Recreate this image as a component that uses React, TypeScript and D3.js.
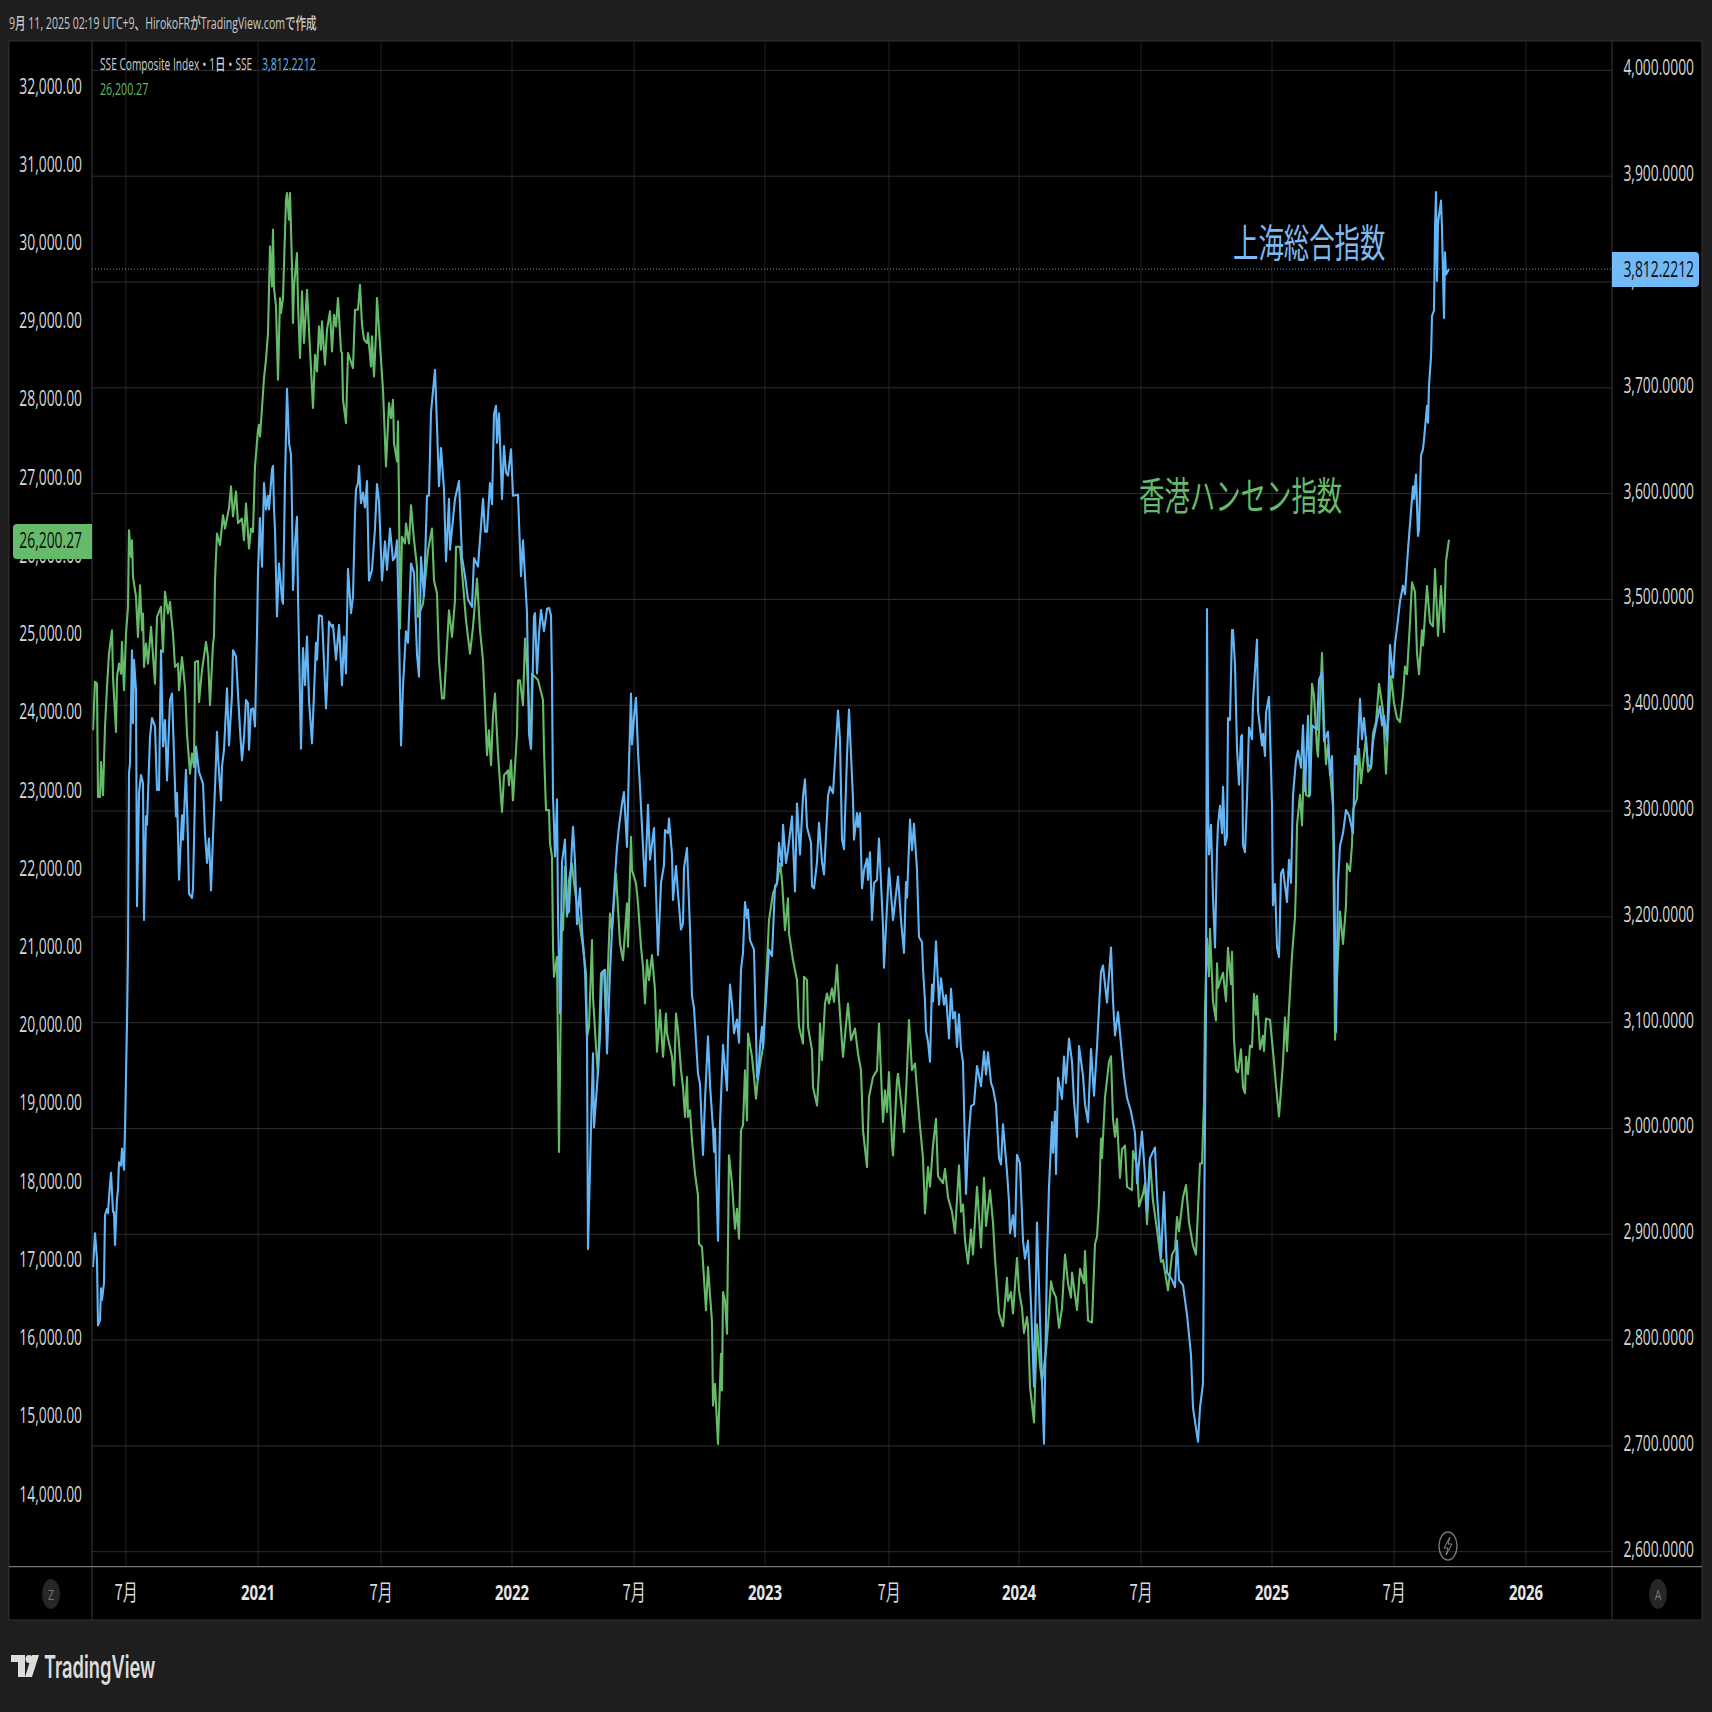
import React from "react";
import * as d3 from "d3";

// x unit: trading session counted from the left edge of the chart
const timeTickSessions = [34, 166, 289, 420, 542, 673, 797, 927, 1049, 1180, 1302, 1434];
const timeTickLabels = ["7月", "2021", "7月", "2022", "7月", "2023", "7月", "2024", "7月", "2025", "7月", "2026"];
const leftTicks = [32000, 31000, 30000, 29000, 28000, 27000, 26000, 25000, 24000, 23000, 22000, 21000, 20000, 19000, 18000, 17000, 16000, 15000, 14000];
const rightTicks = [4000, 3900, 3800, 3700, 3600, 3500, 3400, 3300, 3200, 3100, 3000, 2900, 2800, 2700, 2600];
const lastShanghai = 3812.2212;
const lastHangSeng = 26200.27;

const hangSeng: [number, number][] = [
[1,23763],[3,24382],[5,24360],[6,22911],[8,22911],[9,23358],[11,22932],[13,23806],[15,24318],[17,24744],[20,25042],[21,24446],[24,23742],[25,24446],[27,24616],[29,24488],[30,24893],[32,24275],[34,25000],[36,25341],[37,26321],[39,25980],[40,26193],[41,25724],[44,25469],[46,24957],[48,25618],[50,25042],[51,25256],[52,24574],[54,24872],[56,24616],[59,25085],[63,24360],[65,25213],[69,25341],[71,24765],[73,25533],[76,25256],[78,25405],[80,25128],[81,25000],[83,24574],[86,24616],[87,24275],[90,24701],[93,24318],[95,23721],[98,23209],[100,23465],[102,23295],[103,24637],[106,24650],[107,24126],[110,24531],[114,24893],[116,24701],[118,24083],[121,24872],[122,24957],[123,25682],[125,26279],[128,26129],[131,26513],[133,26343],[137,26604],[139,26881],[141,26497],[144,26817],[146,26412],[150,26470],[152,26193],[154,26662],[157,26087],[159,26343],[161,26300],[163,27137],[166,27606],[167,27670],[168,27520],[170,27883],[172,28267],[174,28501],[176,28842],[177,29396],[178,29950],[180,29439],[181,30164],[182,29418],[184,29183],[186,28245],[188,29290],[189,29098],[191,29290],[194,30547],[195,30632],[197,30291],[198,30632],[200,29695],[201,28970],[202,29439],[205,29865],[206,29226],[208,28522],[210,29375],[212,28714],[215,29396],[217,28885],[221,27883],[223,28565],[225,28352],[227,28927],[229,28629],[230,28991],[233,28437],[235,28885],[238,29119],[240,28607],[242,29076],[244,28927],[246,29290],[249,28607],[250,28586],[251,27989],[254,27691],[256,28586],[261,28394],[263,29140],[266,29140],[268,29460],[270,28949],[272,28757],[275,28714],[276,28842],[279,28416],[280,28799],[282,28288],[284,28842],[285,29290],[287,28885],[291,28117],[294,27137],[297,27947],[299,27755],[301,27989],[302,27435],[305,27201],[306,27712],[307,26711],[308,25064],[310,26236],[313,26151],[314,26407],[317,26151],[319,26641],[322,26193],[325,25852],[326,25213],[331,25383],[336,26066],[340,26343],[342,25682],[345,25511],[347,24659],[350,24169],[352,24169],[354,24616],[357,25298],[360,24957],[363,25426],[364,26108],[368,26108],[371,25639],[374,25170],[378,24744],[381,25085],[385,25703],[388,25042],[391,24659],[393,24062],[395,23444],[397,23764],[399,23316],[401,23955],[403,24232],[404,23955],[406,23465],[410,22719],[412,23188],[416,23252],[417,23060],[419,23380],[421,22868],[425,23721],[426,24403],[428,24403],[431,24083],[433,24936],[435,24574],[439,23529],[440,24488],[446,24406],[451,24150],[452,23511],[454,22743],[457,22743],[458,22317],[460,22147],[461,20996],[462,20612],[465,20868],[467,18372],[470,21422],[471,21209],[473,22019],[475,21379],[477,21848],[480,22061],[482,21806],[488,21251],[491,20996],[494,20655],[495,19845],[497,19973],[500,21081],[501,20356],[504,19717],[506,19354],[509,20655],[512,20697],[514,20058],[518,21422],[520,21209],[524,21933],[528,21038],[531,20825],[535,21550],[536,20996],[539,22402],[540,21976],[544,21806],[546,21550],[549,20996],[551,20740],[553,20271],[555,20825],[557,20569],[560,20889],[563,20441],[565,19653],[568,20186],[571,19589],[574,20143],[575,19887],[580,19589],[582,19224],[584,20143],[586,19930],[589,19418],[591,19203],[593,18819],[595,19331],[596,18819],[598,18904],[600,18521],[603,18094],[606,17817],[607,17199],[610,17157],[614,16347],[616,16901],[620,16197],[621,15132],[623,15409],[626,14641],[629,15792],[630,15323],[631,16581],[633,16474],[635,16048],[637,18329],[640,17967],[643,17391],[645,17647],[647,17263],[649,18649],[651,18713],[653,19416],[655,18776],[656,19887],[660,19589],[662,19333],[664,19054],[666,19331],[671,19717],[675,20782],[677,21337],[681,21678],[685,21806],[688,22061],[690,21848],[693,21209],[696,21614],[697,21166],[701,20825],[705,20569],[707,19973],[711,19759],[712,20612],[715,20569],[716,19973],[720,19674],[721,19203],[725,18968],[727,19416],[728,20015],[730,19546],[733,20271],[735,20399],[737,20271],[740,20463],[742,20292],[745,20761],[747,20313],[751,19589],[756,20271],[759,19802],[763,19951],[766,19631],[769,19418],[771,18649],[775,18180],[777,19075],[781,19331],[785,19416],[787,20015],[791,18755],[793,19160],[795,18883],[797,19395],[800,18478],[801,18329],[805,19288],[806,19373],[810,18904],[812,18627],[815,19395],[817,20058],[820,19418],[823,19503],[825,19161],[828,18704],[831,18293],[833,17586],[836,18179],[838,17928],[841,18453],[844,18796],[846,18065],[851,17974],[853,18156],[856,17791],[860,17609],[863,17335],[867,18202],[869,17609],[871,17700],[873,17243],[876,16946],[879,17380],[881,17061],[885,17928],[889,17152],[892,18042],[894,17426],[898,17883],[901,17472],[903,17015],[907,16307],[911,16147],[915,16764],[916,16467],[919,16581],[921,16307],[925,17015],[927,16604],[930,16376],[932,16056],[935,16262],[936,16147],[938,15371],[942,14915],[945,16170],[948,15645],[950,15440],[954,15828],[956,16147],[959,16718],[961,16604],[964,16513],[967,16125],[970,16376],[973,17061],[976,16695],[979,16513],[980,16832],[985,16353],[988,16878],[992,16695],[993,17106],[996,16216],[1000,16193],[1003,17198],[1005,17289],[1007,17723],[1009,18545],[1010,18293],[1013,19070],[1017,19526],[1019,19595],[1021,18796],[1023,18567],[1025,18796],[1028,18042],[1030,18408],[1033,18453],[1035,17928],[1040,17883],[1041,18385],[1045,18202],[1047,17677],[1051,17837],[1053,17974],[1055,17449],[1058,18271],[1061,17745],[1065,17380],[1069,16969],[1071,16992],[1076,16604],[1080,17061],[1083,17129],[1085,17540],[1087,17357],[1091,17791],[1094,17951],[1097,17472],[1101,17175],[1104,17061],[1108,18225],[1110,18225],[1112,19024],[1113,20211],[1115,21104],[1117,20615],[1118,21227],[1121,20297],[1124,20053],[1125,20786],[1126,20468],[1129,20590],[1131,20664],[1134,20297],[1136,20982],[1139,20517],[1140,20933],[1141,20346],[1142,19808],[1144,19416],[1146,19392],[1149,19686],[1151,19196],[1153,19123],[1154,19588],[1156,19367],[1158,19734],[1160,19710],[1162,20395],[1164,20126],[1165,20370],[1168,19686],[1171,19857],[1172,19661],[1174,20077],[1178,20062],[1181,19661],[1184,19221],[1187,18826],[1191,19514],[1193,20092],[1195,19661],[1197,20199],[1200,20884],[1203,21374],[1204,21814],[1205,22548],[1208,22939],[1210,22548],[1212,23380],[1214,22939],[1217,22915],[1220,24358],[1222,24212],[1225,23526],[1226,23429],[1230,24750],[1232,23869],[1234,23331],[1236,23575],[1239,23086],[1241,22793],[1243,19808],[1245,20589],[1248,21447],[1251,21031],[1254,21520],[1255,22059],[1258,21961],[1260,22303],[1261,22744],[1265,22891],[1267,23527],[1269,23086],[1271,23331],[1274,23673],[1276,23233],[1279,23282],[1281,23722],[1284,23869],[1287,24358],[1291,24016],[1292,23771],[1294,23208],[1296,23820],[1299,24456],[1302,24114],[1305,23918],[1308,23869],[1311,24212],[1313,24579],[1315,24481],[1318,25141],[1320,25655],[1323,25533],[1325,24750],[1327,24481],[1330,25043],[1331,24848],[1335,25606],[1338,25141],[1341,25092],[1343,25826],[1346,24970],[1349,25606],[1352,25019],[1354,25924],[1357,26200]
];

const shanghai: [number, number][] = [
[1,2869],[3,2901],[5,2876],[6,2814],[8,2819],[9,2849],[10,2838],[12,2854],[13,2918],[15,2924],[16,2920],[17,2935],[19,2958],[21,2921],[22,2921],[23,2890],[25,2934],[26,2942],[27,2968],[29,2965],[30,2981],[32,2961],[33,3000],[35,3099],[36,3169],[37,3336],[38,3345],[40,3452],[41,3383],[42,3443],[44,3414],[45,3210],[47,3317],[49,3334],[51,3326],[52,3197],[54,3295],[55,3287],[58,3370],[60,3388],[63,3380],[65,3320],[67,3320],[69,3452],[71,3361],[73,3386],[75,3329],[78,3405],[80,3411],[84,3295],[85,3317],[87,3235],[90,3296],[91,3273],[94,3339],[96,3271],[97,3222],[100,3218],[101,3227],[104,3361],[107,3337],[111,3326],[113,3279],[115,3251],[117,3274],[119,3225],[121,3276],[123,3322],[125,3375],[126,3351],[129,3310],[130,3342],[132,3358],[135,3416],[137,3362],[140,3410],[141,3452],[144,3446],[146,3411],[148,3377],[150,3348],[152,3370],[154,3405],[156,3402],[157,3358],[159,3396],[161,3397],[163,3380],[165,3468],[166,3525],[168,3577],[170,3531],[172,3610],[174,3585],[176,3598],[177,3585],[180,3623],[181,3626],[182,3585],[183,3566],[185,3484],[187,3534],[190,3500],[191,3496],[193,3613],[195,3699],[197,3648],[199,3637],[200,3587],[201,3509],[203,3553],[205,3578],[206,3503],[209,3359],[211,3454],[213,3419],[215,3465],[217,3405],[220,3364],[224,3459],[225,3443],[227,3485],[230,3484],[234,3397],[235,3418],[237,3479],[240,3474],[241,3476],[244,3443],[247,3476],[250,3419],[252,3465],[254,3430],[256,3529],[259,3487],[261,3503],[263,3581],[264,3604],[266,3610],[267,3626],[269,3591],[271,3601],[273,3587],[275,3612],[277,3518],[280,3528],[283,3567],[285,3609],[287,3593],[290,3518],[293,3555],[295,3528],[298,3567],[301,3537],[303,3540],[305,3556],[307,3471],[309,3362],[311,3418],[314,3470],[316,3459],[319,3534],[322,3525],[325,3448],[327,3427],[329,3540],[332,3503],[335,3598],[337,3598],[339,3677],[343,3717],[345,3664],[347,3607],[349,3643],[352,3604],[354,3536],[357,3595],[358,3547],[363,3595],[367,3612],[370,3540],[373,3522],[376,3500],[380,3493],[382,3539],[386,3531],[391,3595],[393,3564],[395,3564],[398,3610],[400,3590],[402,3675],[404,3683],[405,3648],[407,3676],[410,3595],[412,3645],[414,3620],[416,3617],[419,3642],[421,3598],[426,3599],[429,3522],[431,3556],[435,3487],[437,3373],[439,3359],[442,3484],[443,3487],[445,3430],[447,3468],[449,3490],[452,3470],[455,3491],[457,3492],[459,3485],[460,3424],[461,3314],[463,3257],[465,3311],[466,3203],[468,3109],[470,3252],[473,3273],[475,3203],[477,3205],[480,3268],[481,3285],[483,3252],[485,3193],[488,3227],[490,3188],[493,3150],[495,3084],[496,2886],[499,3001],[501,3071],[502,3001],[505,3040],[508,3087],[510,3147],[513,3150],[515,3071],[518,3147],[520,3188],[523,3238],[525,3266],[527,3285],[530,3307],[532,3318],[535,3266],[537,3345],[539,3411],[540,3363],[542,3389],[544,3407],[546,3356],[548,3323],[550,3285],[553,3229],[556,3306],[558,3254],[562,3284],[566,3164],[569,3232],[572,3249],[573,3282],[576,3279],[577,3293],[580,3259],[581,3216],[584,3248],[586,3222],[589,3188],[591,3194],[592,3246],[595,3265],[598,3188],[600,3125],[602,3114],[606,3052],[608,3042],[611,2975],[613,3027],[616,3087],[618,3041],[621,3000],[622,2978],[623,3000],[626,2894],[628,3005],[631,3079],[635,3036],[636,3087],[638,3136],[640,3118],[642,3090],[645,3103],[647,3081],[649,3150],[651,3166],[653,3214],[655,3199],[656,3207],[658,3178],[662,3169],[665,3049],[666,3046],[668,3078],[670,3096],[671,3076],[674,3122],[677,3169],[680,3163],[683,3229],[685,3232],[687,3270],[690,3248],[691,3287],[694,3251],[696,3263],[700,3295],[703,3224],[705,3307],[708,3259],[711,3314],[713,3330],[715,3285],[719,3270],[720,3229],[722,3227],[725,3252],[727,3289],[730,3252],[732,3240],[736,3314],[738,3323],[741,3317],[746,3395],[748,3367],[750,3273],[752,3264],[755,3352],[757,3396],[761,3311],[762,3273],[765,3298],[766,3285],[768,3298],[770,3227],[772,3244],[775,3255],[776,3235],[778,3261],[780,3197],[782,3232],[785,3235],[787,3274],[791,3191],[792,3152],[794,3191],[797,3246],[801,3197],[804,3222],[806,3238],[809,3197],[812,3166],[814,3233],[815,3218],[818,3292],[820,3263],[822,3288],[825,3244],[827,3181],[830,3176],[831,3151],[833,3120],[834,3092],[836,3082],[838,3063],[840,3136],[841,3120],[844,3177],[847,3117],[849,3142],[852,3117],[854,3126],[857,3085],[859,3132],[861,3104],[863,3110],[865,3077],[867,3108],[869,3075],[871,3063],[874,2938],[876,2985],[879,3021],[882,3023],[885,3059],[889,3040],[892,3073],[894,3051],[896,3072],[899,3043],[901,3038],[904,3023],[907,2972],[909,2966],[911,3004],[915,2959],[917,2931],[918,2901],[921,2918],[923,2898],[925,2975],[928,2967],[931,2894],[933,2877],[936,2894],[939,2834],[942,2756],[945,2911],[948,2820],[952,2702],[955,2877],[957,2945],[960,3006],[961,2977],[963,3016],[964,2957],[966,3048],[970,3028],[972,3068],[974,3043],[977,3085],[980,3063],[982,3026],[985,2992],[987,3078],[991,3050],[993,3023],[996,3006],[999,3075],[1002,3031],[1005,3077],[1007,3114],[1009,3148],[1011,3154],[1015,3119],[1019,3171],[1021,3121],[1023,3088],[1026,3110],[1029,3080],[1032,3050],[1035,3029],[1039,3016],[1043,2996],[1045,2948],[1050,2997],[1053,2955],[1055,2921],[1058,2972],[1063,2982],[1065,2938],[1069,2878],[1072,2940],[1075,2864],[1080,2857],[1083,2850],[1085,2894],[1087,2857],[1091,2852],[1095,2824],[1099,2786],[1101,2736],[1106,2704],[1108,2736],[1111,2759],[1112,2894],[1114,3114],[1115,3491],[1116,3305],[1117,3259],[1119,3287],[1121,3218],[1123,3171],[1125,3263],[1126,3287],[1128,3305],[1130,3279],[1131,3323],[1133,3268],[1135,3276],[1136,3388],[1138,3386],[1140,3471],[1141,3471],[1143,3438],[1145,3359],[1147,3325],[1149,3370],[1150,3372],[1151,3268],[1153,3261],[1155,3312],[1157,3379],[1160,3368],[1161,3404],[1165,3462],[1166,3395],[1170,3362],[1171,3373],[1173,3352],[1174,3393],[1177,3408],[1180,3305],[1181,3211],[1183,3231],[1185,3171],[1187,3162],[1189,3241],[1191,3245],[1195,3214],[1197,3254],[1199,3232],[1201,3315],[1204,3348],[1206,3357],[1209,3341],[1211,3381],[1213,3319],[1216,3390],[1218,3315],[1220,3381],[1225,3377],[1227,3424],[1230,3431],[1232,3366],[1236,3375],[1238,3334],[1240,3352],[1242,3268],[1244,3091],[1246,3232],[1248,3267],[1251,3279],[1254,3301],[1257,3296],[1261,3279],[1263,3352],[1265,3344],[1268,3406],[1270,3368],[1272,3388],[1276,3344],[1279,3341],[1281,3366],[1285,3386],[1288,3399],[1290,3381],[1292,3390],[1295,3366],[1298,3457],[1301,3426],[1303,3458],[1305,3473],[1308,3498],[1311,3513],[1313,3505],[1316,3547],[1319,3583],[1321,3607],[1322,3595],[1324,3618],[1326,3560],[1327,3566],[1329,3636],[1331,3642],[1332,3651],[1335,3683],[1336,3667],[1337,3702],[1339,3729],[1340,3768],[1342,3773],[1343,3850],[1344,3885],[1345,3801],[1346,3856],[1349,3877],[1350,3850],[1352,3766],[1353,3828],[1354,3807],[1357,3812.2212]
];

const BLUE = "#64b5f6";
const GREEN = "#66bb6a";
const TEXT = "#d8d8d8";
const FONT = "'Open Sans', sans-serif";
const CJK = "'Noto Sans CJK JP', sans-serif";
const MIXED = "'Open Sans','Noto Sans CJK JP',sans-serif";

const W = 1712;
const L = 92, R = 1612, T = 41, B = 1566.7, FL = 9, FR = 1702, FB = 1620;

const x = d3.scaleLinear().domain([0, 1360]).range([L, L + 1360]);
const yR = d3.scaleLinear().domain([2600, 4000]).range([1551.7, 70.4]);
const yL = d3.scaleLinear().domain([14000, 32000]).range([1494, 86]);

const fmtL = d3.format(",.2f");
const fmtR = d3.format(",.4f");

const lineL = d3.line<[number, number]>().x((d) => x(d[0])).y((d) => yL(d[1]));
const lineR = d3.line<[number, number]>().x((d) => x(d[0])).y((d) => yR(d[1]));

// horizontally condensed text: the picture is squeezed sideways
function T2(p: { x: number; y: number; s?: number; size: number; fill: string; anchor?: string; weight?: number; font?: string; children: React.ReactNode }) {
  return (
    <text
      transform={`translate(${p.x},${p.y}) scale(${p.s ?? 0.66},1)`}
      fontSize={p.size}
      fill={p.fill}
      textAnchor={p.anchor ?? "start"}
      fontWeight={p.weight ?? 500}
      fontFamily={p.font ?? FONT}
    >
      {p.children}
    </text>
  );
}

export default function App() {
  return (
    <svg width={W} height={W} viewBox={`0 0 ${W} ${W}`} style={{ position: "fixed", left: 0, top: 0, display: "block" }}>
      <rect width={W} height={W} fill="#1e1e1e" />
      <rect x={FL} y={T} width={FR - FL} height={FB - T} fill="#000" stroke="#333" strokeWidth={1} />

      {timeTickSessions.map((s, i) => (
        <line key={i} x1={x(s)} x2={x(s)} y1={T} y2={B} stroke="#1d1d1d" strokeWidth={1.2} />
      ))}
      {rightTicks.map((v) => (
        <line key={v} x1={L} x2={R} y1={yR(v)} y2={yR(v)} stroke="#2e2e2e" strokeWidth={1} />
      ))}
      <line x1={L} x2={R} y1={yR(lastShanghai)} y2={yR(lastShanghai)} stroke="#5b9bd0" strokeWidth={1} strokeDasharray="1 2" />

      <path d={lineL(hangSeng) ?? ""} fill="none" stroke={GREEN} strokeWidth={2.1} strokeLinejoin="round" />
      <path d={lineR(shanghai) ?? ""} fill="none" stroke={BLUE} strokeWidth={2.1} strokeLinejoin="round" />

      <line x1={L} x2={L} y1={T} y2={FB} stroke="#3a3a3a" />
      <line x1={R} x2={R} y1={T} y2={FB} stroke="#3a3a3a" />
      <line x1={FL} x2={FR} y1={B} y2={B} stroke="#777" strokeWidth={1.2} />

      {leftTicks.map((v) => (
        <T2 key={v} x={82} y={yL(v) + 7.5} size={21} s={0.66} anchor="end" fill={TEXT}>{fmtL(v)}</T2>
      ))}
      {rightTicks.map((v) => (
        <T2 key={v} x={1694} y={yR(v) + 5} size={21} s={0.66} anchor="end" fill={TEXT}>{fmtR(v)}</T2>
      ))}

      {timeTickSessions.map((s, i) => {
        const isYear = timeTickLabels[i].length > 2;
        return (
          <T2 key={i} x={x(s)} y={1600} size={22} s={0.68} anchor="middle" fill={isYear ? "#e6e6e6" : TEXT} weight={isYear ? 700 : 400}
            font={isYear ? FONT : CJK}>
            {timeTickLabels[i]}
          </T2>
        );
      })}

      <path d={`M1612 252H1695a4 4 0 0 1 4 4V283a4 4 0 0 1 -4 4H1612Z`} fill="#72b9f7" />
      <T2 x={1694} y={277} size={21} s={0.66} anchor="end" fill="#0c0c0c">{fmtR(lastShanghai)}</T2>
      <path d={`M92 524H17a4 4 0 0 0 -4 4V555a4 4 0 0 0 4 4H92Z`} fill={GREEN} />
      <T2 x={82} y={548} size={21} s={0.66} anchor="end" fill="#0c0c0c">{fmtL(lastHangSeng)}</T2>

      <T2 x={9} y={29} size={16} s={0.66} fill="#c8c8c8" font={MIXED}>9月 11, 2025 02:19 UTC+9、HirokoFRがTradingView.comで作成</T2>
      <T2 x={100} y={70} size={15.5} s={0.655} fill="#d0d0d0" font={MIXED}>SSE Composite Index・1日・SSE</T2>
      <T2 x={262} y={70} size={15.5} s={0.68} fill={BLUE}>3,812.2212</T2>
      <T2 x={100} y={95} size={15.5} s={0.69} fill={GREEN}>26,200.27</T2>

      <T2 x={1233} y={257} size={38.5} s={0.66} weight={400} fill="#7dbaf2" font={CJK}>上海総合指数</T2>
      <T2 x={1139} y={510} size={38.5} s={0.66} weight={400} fill={GREEN} font={CJK}>香港ハンセン指数</T2>

      <ellipse cx={51} cy={1594} rx={9} ry={15} fill="#262626" />
      <T2 x={51} y={1600} size={15} s={0.7} anchor="middle" fill="#777">Z</T2>
      <ellipse cx={1658} cy={1594} rx={9} ry={15} fill="#262626" />
      <T2 x={1658} y={1600} size={15} s={0.7} anchor="middle" fill="#777">A</T2>

      <ellipse cx={1448} cy={1546} rx={9} ry={14} fill="none" stroke="#777" strokeWidth={1.4} />
      <path d="M1450 1537L1444 1548H1448L1446 1555L1452 1544H1448Z" fill="none" stroke="#888" strokeWidth={1} />

      <path d="M11 1655H25V1677H18V1662H11Z" fill="#dcdcdc" />
      <ellipse cx={29} cy={1659} rx={3.5} ry={4} fill="#dcdcdc" />
      <path d="M32 1655H39L32 1677H25Z" fill="#dcdcdc" />
      <T2 x={44} y={1678} size={31} s={0.59} weight={600} fill="#dcdcdc" font="'Inter', sans-serif">TradingView</T2>
    </svg>
  );
}
